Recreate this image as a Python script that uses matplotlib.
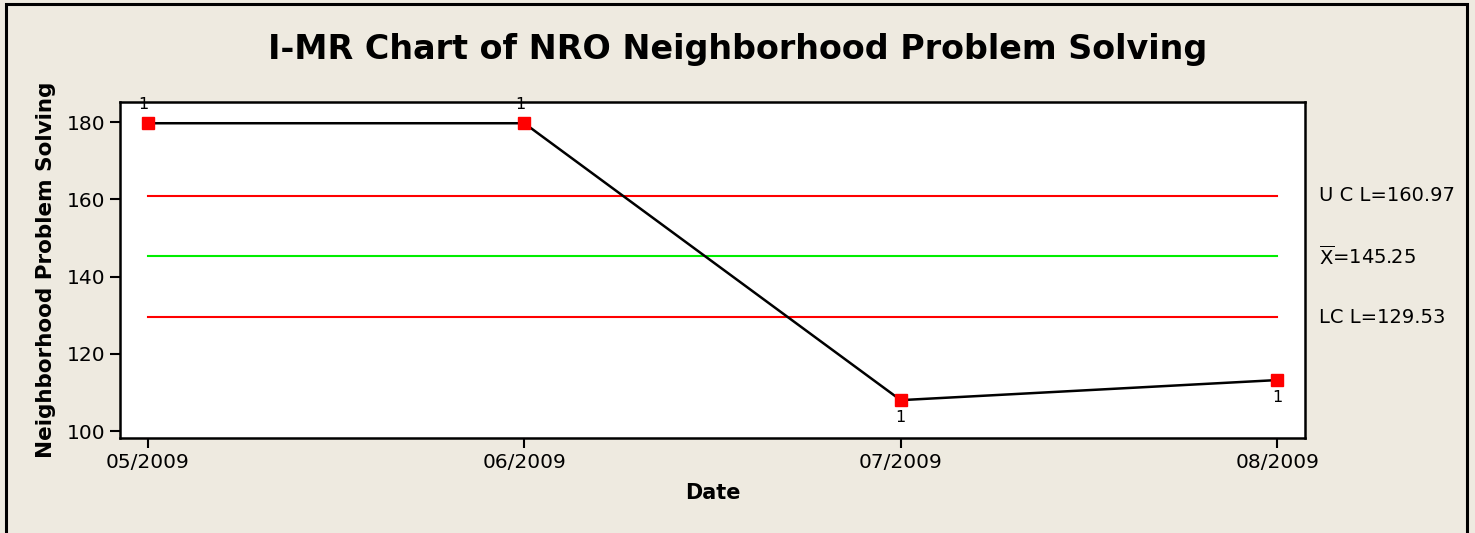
import matplotlib.pyplot as plt
from matplotlib.patches import Rectangle

dates = ["05/2009", "06/2009", "07/2009", "08/2009"]
values = [179.7, 179.7, 108.0, 113.2]
ucl = 160.97
center = 145.25
lcl = 129.53
flags = ["1", "1", "1", "1"]
flag_above = [True, True, False, False]

bg = "#EEEAE0"
W, H = 1475, 533

fig = plt.figure(figsize=(14.75, 5.33), dpi=100, facecolor=bg)
ax = fig.add_axes([120 / W, 1 - 438 / H, (1305 - 120) / W, (438 - 102) / H])
ax.set_facecolor("white")

x = list(range(len(dates)))
ax.plot(x, values, color="black", lw=1.8, zorder=3)
ax.plot(x, values, ls="none", marker="s", ms=9, color="red", zorder=4)

ax.plot([x[0], x[-1]], [ucl, ucl], color="red", lw=1.5)
ax.plot([x[0], x[-1]], [center, center], color="#00ee00", lw=1.5)
ax.plot([x[0], x[-1]], [lcl, lcl], color="red", lw=1.5)

for xi, v, f, up in zip(x, values, flags, flag_above):
    if up:
        ax.annotate(f, (xi, v), xytext=(-3, 8), textcoords="offset points",
                    ha="center", va="bottom", fontsize=11.5, clip_on=False)
    else:
        ax.annotate(f, (xi, v), xytext=(0, -7), textcoords="offset points",
                    ha="center", va="top", fontsize=11.5)

# control limit labels to the right of the plot
for val, lab in [(ucl, "U C L=160.97"), (center, r"$\overline{\mathrm{X}}$=145.25"),
                 (lcl, "LC L=129.53")]:
    ax.annotate(lab, (1, val), xycoords=("axes fraction", "data"),
                xytext=(10, 0), textcoords="offset points",
                ha="left", va="center", fontsize=14)

ax.set_xlim(-0.074, 3.074)
ax.set_ylim(98.2, 185.2)
ax.set_xticks(x)
ax.set_xticklabels(dates)
ax.set_yticks([100, 120, 140, 160, 180])
ax.tick_params(axis="both", labelsize=14.5, length=7, width=1.5, direction="out")
for s in ax.spines.values():
    s.set_linewidth(1.8)

ax.set_xlabel("Date", fontsize=15, fontweight="bold", labelpad=8)
ax.set_ylabel("Neighborhood Problem Solving", fontsize=15.5, fontweight="bold",
              labelpad=8)

fig.text(0.5, 1 - 50 / H, "I-MR Chart of NRO Neighborhood Problem Solving",
         ha="center", va="center", fontsize=24, fontweight="bold")

# outer frame
fig.patches.append(Rectangle((6 / W, -0.05), (1467 - 6) / W, 1.05 - 4 / H,
                             transform=fig.transFigure, fill=False,
                             edgecolor="black", lw=2.2))

fig.savefig("out.png", dpi=100, facecolor=bg)
